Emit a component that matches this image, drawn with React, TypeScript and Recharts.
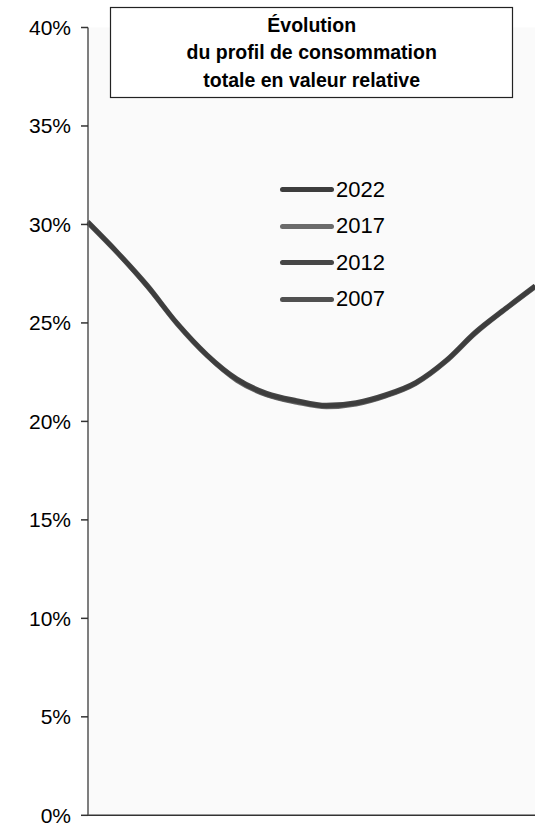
import React from "react";
import { LineChart, Line, XAxis, YAxis, CartesianGrid } from "recharts";

// Period index along the horizontal axis (no labels are drawn for it)
const periods = [0, 1, 2, 3, 4, 5, 6, 7, 8, 9, 10, 11, 12, 13, 14, 15];

// Share of total consumption (%) per period, one array per year
const y2022 = [30.1, 28.55, 26.85, 24.95, 23.35, 22.12, 21.38, 21.02, 20.78, 20.92, 21.32, 21.95, 23.05, 24.5, 25.7, 26.85];
const y2017 = [30.05, 28.5, 26.8, 24.9, 23.3, 22.05, 21.32, 20.95, 20.72, 20.86, 21.27, 21.9, 23.0, 24.45, 25.66, 26.8];
const y2012 = [30.15, 28.6, 26.92, 25.0, 23.4, 22.18, 21.45, 21.08, 20.84, 20.98, 21.38, 22.0, 23.1, 24.56, 25.75, 26.9];
const y2007 = [30.08, 28.52, 26.82, 24.93, 23.32, 22.1, 21.35, 20.99, 20.76, 20.9, 21.3, 21.93, 23.03, 24.48, 25.68, 26.83];

const yTicks = [0, 5, 10, 15, 20, 25, 30, 35, 40];

const titleLines = ["Évolution", "du profil de consommation", "totale en valeur relative"];

// Drawing order (last one ends up on top)
const series = [
  { key: "2017", color: "#6b6b6b" },
  { key: "2007", color: "#505050" },
  { key: "2012", color: "#464646" },
  { key: "2022", color: "#3d3d3d" },
];
const legendOrder = ["2022", "2017", "2012", "2007"];

const data = periods.map((p, i) => ({
  p,
  "2022": y2022[i],
  "2017": y2017[i],
  "2012": y2012[i],
  "2007": y2007[i],
}));

const FONT = '"Liberation Sans", Arial, sans-serif';

const LegendBox = () => (
  <div style={{ position: "absolute", left: 278, top: 171.8, fontFamily: FONT, pointerEvents: "none" }}>
    {legendOrder.map((k) => {
      const s = series.find((x) => x.key === k)!;
      return (
        <div key={k} style={{ display: "flex", alignItems: "center", height: 36.4 }}>
          <div style={{ width: 54, height: 5, borderRadius: 2.5, background: s.color, marginLeft: 2 }} />
          <span style={{ fontSize: 22, color: "#000", marginLeft: 2, lineHeight: "22px" }}>{k}</span>
        </div>
      );
    })}
  </div>
);

export default function App() {
  return (
    <div style={{ position: "absolute", left: 0, top: 0, width: 535, height: 825, background: "#fff" }}>
      <LineChart width={535} height={825} data={data} margin={{ top: 27.5, right: 0, bottom: 8.7, left: 0 }}>
        <CartesianGrid horizontal={false} vertical={false} fill="#fafafa" />
        <XAxis
          dataKey="p"
          type="number"
          domain={[0, 15]}
          height={1}
          tick={false}
          tickLine={false}
          axisLine={{ stroke: "#333", strokeWidth: 1.5 }}
        />
        <YAxis
          width={88}
          domain={[0, 40]}
          ticks={yTicks}
          interval={0}
          tickFormatter={(v: number) => `${v}%`}
          tickSize={7}
          tickMargin={10}
          tick={{ fontSize: 21, fill: "#000", fontFamily: FONT }}
          tickLine={{ stroke: "#333", strokeWidth: 1.5 }}
          axisLine={{ stroke: "#555", strokeWidth: 1.5 }}
        />
        {series.map((s) => (
          <Line
            key={s.key}
            dataKey={s.key}
            type="monotone"
            stroke={s.color}
            strokeWidth={4}
            dot={false}
            activeDot={false}
            isAnimationActive={false}
          />
        ))}
      </LineChart>
      <LegendBox />
      <svg
        width={535}
        height={110}
        style={{ position: "absolute", left: 0, top: 0, pointerEvents: "none" }}
      >
        <rect x={110.5} y={7.5} width={402} height={90} fill="#fff" stroke="#222" strokeWidth={1.2} />
        {titleLines.map((t, i) => (
          <text
            key={t}
            x={311.7}
            y={31.7 + i * 27.6}
            textAnchor="middle"
            fontFamily={FONT}
            fontWeight="bold"
            fontSize={19.5}
            fill="#000"
          >
            {t}
          </text>
        ))}
      </svg>
    </div>
  );
}
